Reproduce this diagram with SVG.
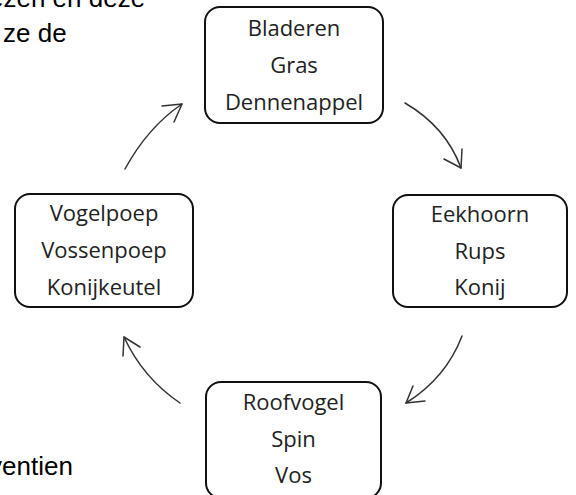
<svg xmlns="http://www.w3.org/2000/svg" width="576" height="495" viewBox="0 0 576 495">
<style>
.box{fill:#fff;stroke:#111;stroke-width:2}
.lbl{font-family:"Open Sans","DejaVu Sans",sans-serif;font-size:22px;fill:#222;text-anchor:middle}
.bg{font-family:"Liberation Sans",Arial,sans-serif;font-size:26px;fill:#000}
.arr{fill:none;stroke:#333;stroke-width:1.5;stroke-linecap:round;stroke-linejoin:round}
</style>
<rect width="576" height="495" fill="#fff"/>
<g id="background-text">
<text class="bg" x="-11" y="7">ezen en deze</text>
<text class="bg" x="3" y="42">ze de</text>
<text class="bg" x="-11" y="475">ventien</text>
</g>
<g id="node-top">
<rect class="box" x="205" y="7" width="178" height="116" rx="15"/>
<text class="lbl" x="294" y="36">Bladeren</text>
<text class="lbl" x="294" y="73">Gras</text>
<text class="lbl" x="294" y="110">Dennenappel</text>
</g>
<g id="node-right">
<rect class="box" x="393" y="195" width="174" height="112" rx="15"/>
<text class="lbl" x="480" y="222">Eekhoorn</text>
<text class="lbl" x="480" y="259">Rups</text>
<text class="lbl" x="480" y="295">Konij</text>
</g>
<g id="node-bottom">
<rect class="box" x="206" y="382" width="175" height="116" rx="15"/>
<text class="lbl" x="293.5" y="410">Roofvogel</text>
<text class="lbl" x="293.5" y="447">Spin</text>
<text class="lbl" x="293.5" y="483">Vos</text>
</g>
<g id="node-left">
<rect class="box" x="15" y="194" width="178" height="113" rx="15"/>
<text class="lbl" x="104" y="221">Vogelpoep</text>
<text class="lbl" x="104" y="258">Vossenpoep</text>
<text class="lbl" x="104" y="295">Konijkeutel</text>
</g>
<g id="connectors">
<path class="arr" d="M125,169 Q148,127 182,104"/>
<path class="arr" d="M162,106 L182,104 L174,122"/>
<path class="arr" d="M405,103 Q446,127 461,168"/>
<path class="arr" d="M462,149 L461,168 L444,159"/>
<path class="arr" d="M462,336 Q446,378 406,403"/>
<path class="arr" d="M413,386 L406,403 L425,401"/>
<path class="arr" d="M180,403 Q143,378 124,337"/>
<path class="arr" d="M123,356 L124,337 L140,347"/>
</g>
</svg>
